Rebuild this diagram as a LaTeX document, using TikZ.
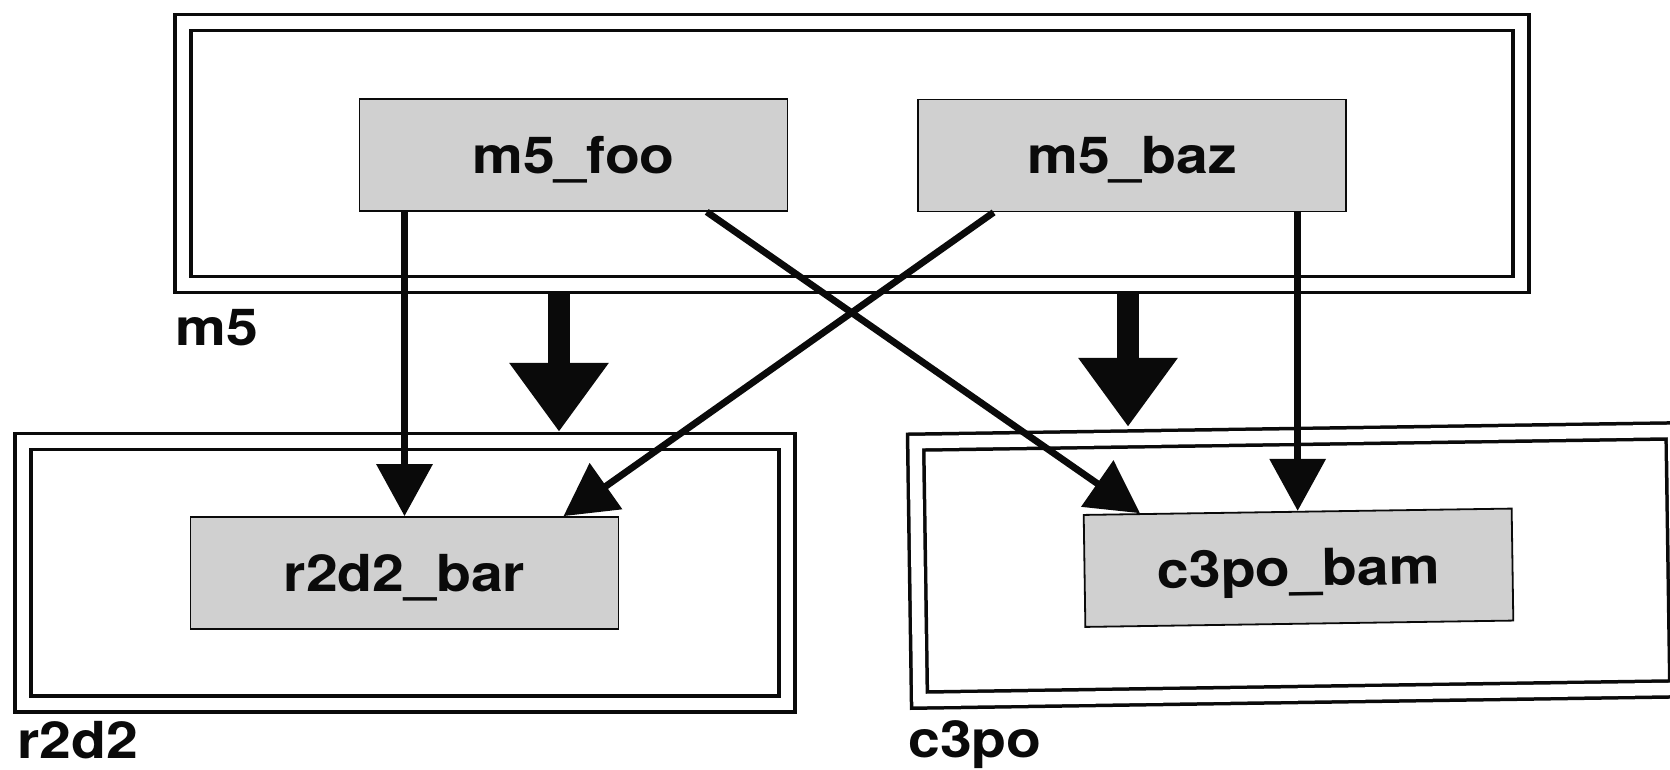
\documentclass[tikz,border=0pt]{standalone}
\usepackage{fontspec}
\newfontfamily\pkgfont{TeX Gyre Heros}[FakeStretch=1.12]
\usetikzlibrary{arrows.meta,calc}
\definecolor{ink}{HTML}{0A0A0A}
\definecolor{stipple}{HTML}{D0D0D0}
\newcommand{\UnitW}{214pt}
\newcommand{\UnitH}{56pt}
\newcommand{\Skew}{0.85}

\begin{document}
\begin{tikzpicture}[x=0.5pt, y=-0.5pt, ink,
  font=\pkgfont\bfseries\fontsize{25.5}{30}\selectfont,
  pkgbox/.style={draw=ink, line width=1.75pt, double=white, double distance=6.25pt, outer sep=4.875pt, inner sep=0pt},
  unitbox/.style={draw=ink, line width=0.9pt, fill=stipple, minimum width=\UnitW, minimum height=\UnitH, inner sep=0pt, text height=18.4pt, text depth=0pt},
  call/.style={draw=ink, line width=3.4pt, -{Triangle[length=26pt, width=27.5pt]}},
  uses/.style={draw=ink, line width=11pt, -{Triangle[length=34.5pt, width=47.5pt]}},
  pkgname/.style={anchor=base west, inner sep=0pt}]

\useasboundingbox (0,0) rectangle (1670,770);
\fill[white] (0,0) rectangle (1670,770);
\clip (0,0) rectangle (1670,770);

% --- Packages: a double frame each, name below left ------------------------------
\node[pkgbox, minimum width=669pt, minimum height=131pt] (m5) at (852,153.5) {};
\node[pkgbox, minimum width=382pt, minimum height=131.25pt] (r2d2) at (405,572.75) {};
\node[pkgbox, minimum width=379.25pt, minimum height=129pt, rotate=\Skew] (c3po) at (1296.75,565.5) {};

\node[pkgname] (m5name) at (175,345) {m5};
\node[pkgname] (r2d2name) at (17,758) {r2d2};
\node[pkgname] (c3poname) at (908,757) {c3po};

% --- Package dependencies -----------------------------------------------------------
\coordinate (leftdrop) at (559,0);
\coordinate (rightdrop) at (1128,0);
\draw[uses] (m5.south -| leftdrop) -- (r2d2.north -| leftdrop);
\draw[uses] (m5.south -| rightdrop) -- (c3po.north -| rightdrop);

% --- Units inside the packages -------------------------------------------------------
\foreach \id/\x/\y/\tilt/\label in {foo/573.5/155/0/m5\_foo, baz/1132/155.5/0/m5\_baz, bar/404.5/573/0/r2d2\_bar, bam/1298.5/567.75/\Skew/c3po\_bam} {
  \node[unitbox, rotate=\tilt] (\id) at (\x,\y) {\label};
}

% --- Calls between units ----------------------------------------------------------------
\draw[call] (foo.south -| bar.north) -- (bar.north);
\draw[call] (baz.south -| bam.north) -- (bam.north);
\draw[call] ($(foo.south west)!0.81!(foo.south east)$) -- ($(bam.north west)!0.133!(bam.north east)$);
\draw[call] ($(baz.south west)!0.178!(baz.south east)$) -- ($(bar.north west)!0.87!(bar.north east)$);

\end{tikzpicture}
\end{document}
